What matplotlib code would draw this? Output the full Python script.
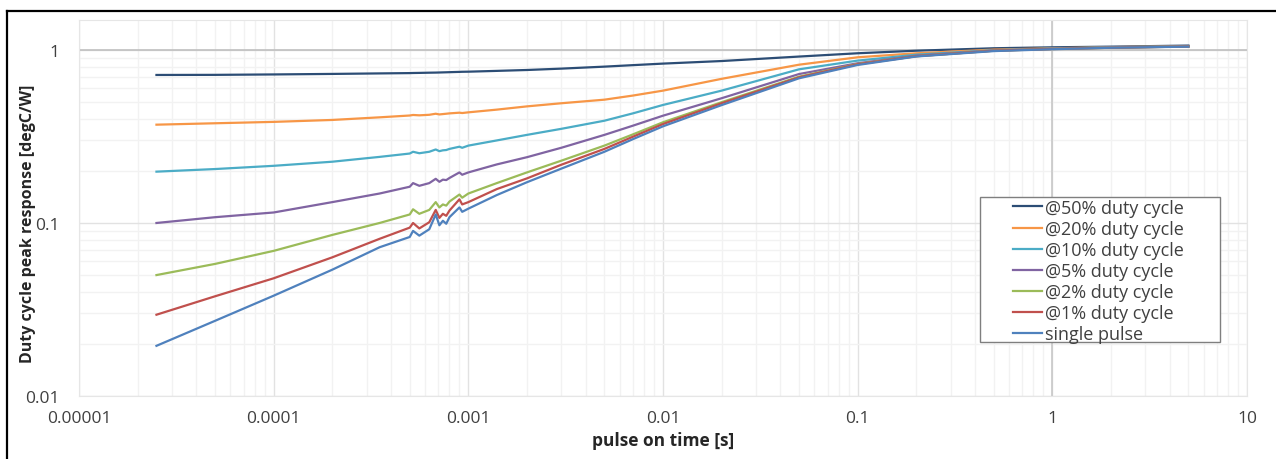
import matplotlib
matplotlib.use('Agg')
import matplotlib.pyplot as plt
from matplotlib.lines import Line2D
from matplotlib.patches import Rectangle
from matplotlib.ticker import LogLocator, FixedLocator, FixedFormatter, NullFormatter

# pulse on time [s]
t = [2.5e-5, 5e-5, 1e-4, 2e-4, 3.5e-4, 5.0e-4, 5.2e-4, 5.6e-4, 6.3e-4, 6.8e-4,
     7.1e-4, 7.4e-4, 7.7e-4, 8.0e-4, 9.0e-4, 9.3e-4, 1e-3, 1.4e-3, 2e-3, 3e-3,
     5e-3, 7e-3, 1e-2, 2e-2, 5e-2, 0.1, 0.2, 0.5, 1, 2, 5]

# peak response [degC/W]
d50 = [0.717, 0.718, 0.722, 0.727, 0.732, 0.735, 0.736, 0.737, 0.739, 0.740,
       0.741, 0.742, 0.743, 0.744, 0.747, 0.748, 0.749, 0.757, 0.766, 0.780,
       0.801, 0.817, 0.834, 0.863, 0.916, 0.957, 0.990, 1.023, 1.036, 1.045, 1.060]
d20 = [0.370, 0.377, 0.384, 0.394, 0.408, 0.418, 0.421, 0.419, 0.422, 0.428,
       0.424, 0.426, 0.428, 0.430, 0.434, 0.432, 0.436, 0.452, 0.472, 0.492,
       0.516, 0.545, 0.582, 0.681, 0.822, 0.907, 0.957, 1.005, 1.022, 1.038, 1.052]
d10 = [0.198, 0.205, 0.214, 0.226, 0.241, 0.252, 0.258, 0.253, 0.258, 0.266,
       0.260, 0.263, 0.264, 0.268, 0.276, 0.272, 0.280, 0.300, 0.323, 0.350,
       0.390, 0.430, 0.481, 0.582, 0.773, 0.868, 0.939, 0.997, 1.018, 1.035, 1.050]
d5 = [0.100, 0.108, 0.115, 0.132, 0.148, 0.162, 0.170, 0.164, 0.170, 0.180,
      0.173, 0.178, 0.177, 0.182, 0.196, 0.190, 0.196, 0.218, 0.240, 0.272,
      0.323, 0.365, 0.417, 0.526, 0.726, 0.838, 0.927, 0.993, 1.015, 1.032, 1.048]
d2 = [0.050, 0.058, 0.069, 0.0853, 0.100, 0.112, 0.120, 0.113, 0.119, 0.132,
      0.123, 0.128, 0.126, 0.133, 0.146, 0.140, 0.148, 0.170, 0.196, 0.229,
      0.280, 0.325, 0.382, 0.499, 0.701, 0.830, 0.920, 0.990, 1.013, 1.030, 1.047]
d1 = [0.0295, 0.0377, 0.0479, 0.0633, 0.081, 0.094, 0.100, 0.093, 0.101, 0.119,
      0.107, 0.113, 0.110, 0.118, 0.137, 0.128, 0.132, 0.157, 0.181, 0.217,
      0.268, 0.315, 0.373, 0.492, 0.695, 0.827, 0.920, 0.990, 1.013, 1.030, 1.047]
single = [0.0195, 0.0272, 0.038, 0.0537, 0.0724, 0.083, 0.090, 0.0845, 0.092, 0.112,
          0.097, 0.103, 0.099, 0.108, 0.123, 0.116, 0.121, 0.145, 0.172, 0.206,
          0.258, 0.305, 0.362, 0.480, 0.686, 0.819, 0.917, 0.985, 1.010, 1.030, 1.045]

labels = ['@50% duty cycle', '@20% duty cycle', '@10% duty cycle', '@5% duty cycle',
          '@2% duty cycle', '@1% duty cycle', 'single pulse']
colors = ['#2c4d75', '#f79646', '#4bacc6', '#8064a2', '#9bbb59', '#c0504d', '#4f81bd']
series = [d50, d20, d10, d5, d2, d1, single]

xticks = [1e-5, 1e-4, 1e-3, 1e-2, 1e-1, 1, 10]
xticklabels = ['0.00001', '0.0001', '0.001', '0.01', '0.1', '1', '10']
yticks = [0.01, 0.1, 1]
yticklabels = ['0.01', '0.1', '1']

plt.rcParams['font.family'] = ['Open Sans', 'DejaVu Sans']

fig = plt.figure(figsize=(12.76, 4.6), dpi=100)
ax = fig.add_axes([79 / 1276, 1 - 397 / 460, 1168 / 1276, 376 / 460])

ax.set_xscale('log')
ax.set_yscale('log')
ax.set_xlim(1e-5, 10)
ax.set_ylim(0.01, 1.49)

# сітка як в Excel
ax.xaxis.set_minor_locator(LogLocator(base=10, subs=range(2, 10), numticks=20))
ax.yaxis.set_minor_locator(LogLocator(base=10, subs=range(2, 10), numticks=20))
ax.xaxis.set_minor_formatter(NullFormatter())
ax.yaxis.set_minor_formatter(NullFormatter())
ax.grid(which='minor', color='#f2f2f2', linewidth=1.0)
ax.grid(which='major', color='#e2e2e2', linewidth=1.0)
ax.axhline(1, color='#c0c0c0', linewidth=1.2, zorder=1)
ax.axvline(1, color='#c8c8c8', linewidth=1.2, zorder=1)
ax.set_axisbelow(True)

for s in ax.spines.values():
    s.set_color('#e6e6e6')

ax.xaxis.set_major_locator(FixedLocator(xticks))
ax.xaxis.set_major_formatter(FixedFormatter(xticklabels))
ax.yaxis.set_major_locator(FixedLocator(yticks))
ax.yaxis.set_major_formatter(FixedFormatter(yticklabels))
ax.tick_params(which='both', length=0, labelsize=12.5, labelcolor='#404040')
ax.tick_params(axis='x', pad=10)
ax.tick_params(axis='y', pad=14)

for y, c, lab in zip(series, colors, labels):
    ax.plot(t, y, color=c, linewidth=1.6, label=lab)

ax.set_xlabel('pulse on time [s]', fontsize=12.5, fontweight='bold', color='#262626')
ax.xaxis.set_label_coords(0.5, (397 - 432) / 376)
ax.set_ylabel('Duty cycle peak response [degC/W]', fontsize=11.5, fontweight='bold',
              color='#262626')
ax.yaxis.set_label_coords((36 - 79) / 1168, (397 - 224) / 376)

# легенда з окремою рамкою
box_l, box_r = (980 - 79) / 1168, (1220 - 79) / 1168
box_b, box_t = (397 - 343) / 376, (397 - 198) / 376
ax.add_patch(Rectangle((box_l, box_b), box_r - box_l, box_t - box_b, transform=ax.transAxes,
                       facecolor='white', edgecolor='#7f7f7f', linewidth=1.0, zorder=5))
leg = ax.legend(loc='upper left', bbox_to_anchor=((1011 - 79) / 1168, (397 - 198) / 376),
                frameon=False, fontsize=13, handlelength=1.6, handletextpad=0.17,
                labelspacing=0.17, borderpad=0.1, borderaxespad=0)
leg.set_zorder(6)
for txt in leg.get_texts():
    txt.set_color('#404040')

# рамка навколо всього малюнку
fig.add_artist(Line2D([7 / 1276, 1.0], [1 - 11.5 / 460] * 2, color='black', linewidth=1.6))
fig.add_artist(Line2D([7 / 1276] * 2, [0.0, 1 - 11.5 / 460], color='black', linewidth=1.6))

plt.savefig('out.png', dpi=100)
